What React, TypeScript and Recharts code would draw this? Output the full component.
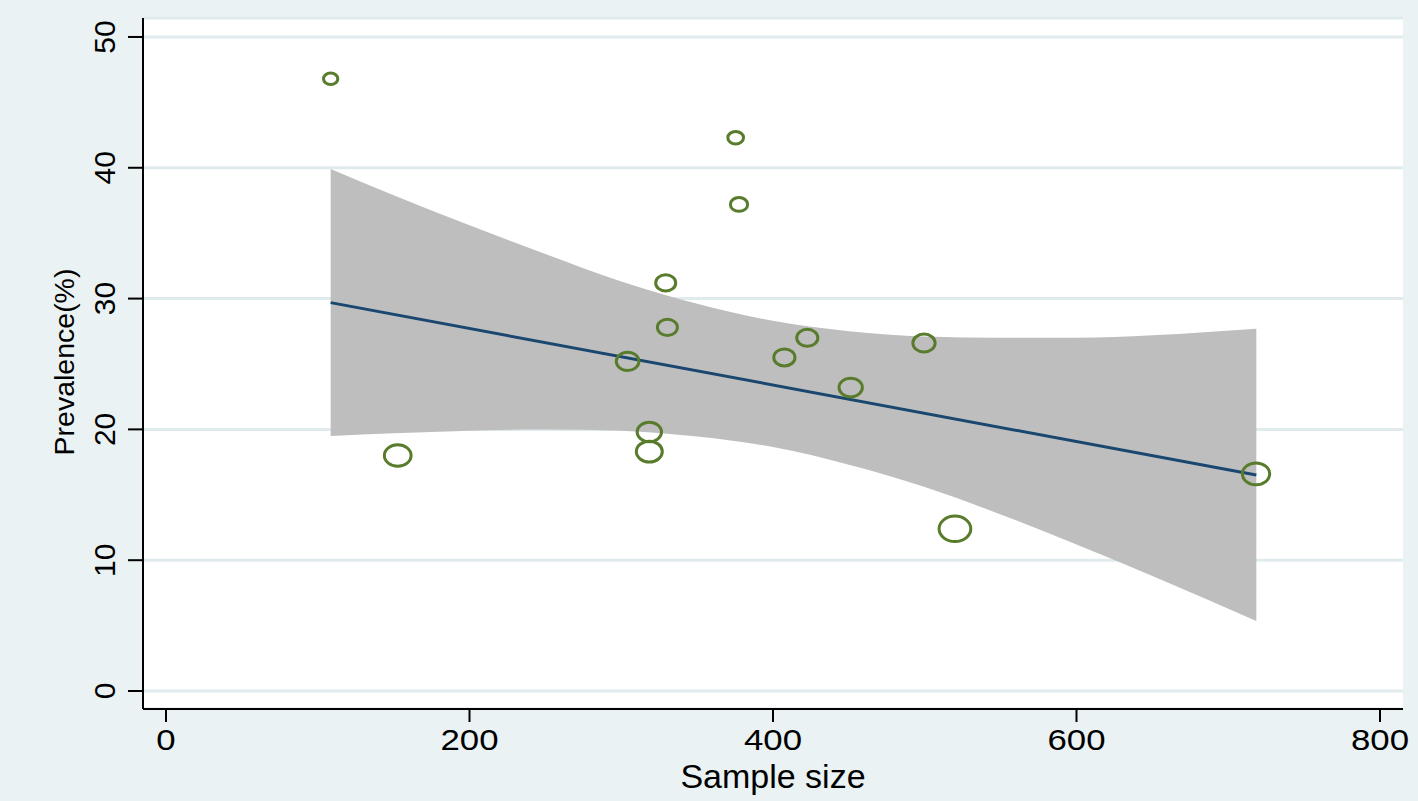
import React from 'react';
import { ComposedChart, Area, Line, Scatter, XAxis, YAxis, CartesianGrid } from 'recharts';

// studies: sample size, prevalence (%), relative weight
const sampleSize = [108.5, 375.4, 377.6, 329.3, 330.4, 304.2, 407.5, 422.6, 499.5, 451.2, 318.5, 318.5, 152.7, 519.9, 718.3];
const prevalence = [46.8, 42.3, 37.2, 31.2, 27.8, 25.2, 25.5, 27.0, 26.6, 23.2, 19.8, 18.3, 18.0, 12.4, 16.6];
const weight = [164, 196, 237, 320, 320, 412, 357, 357, 396, 433, 475, 538, 571, 801, 595];

// fitted line
const fitX = [108.5, 718.5];
const fitY = [29.69, 16.51];

// 95% CI band
const bandX = [108.5, 150, 200, 250, 300, 350, 400, 450, 500, 550, 600, 650, 718.5];
const bandLow = [19.5, 19.7, 19.9, 20.0, 19.9, 19.45, 18.65, 17.3, 15.6, 13.5, 11.2, 8.8, 5.35];
const bandHigh = [39.9, 37.9, 35.6, 33.4, 31.3, 29.6, 28.3, 27.5, 27.1, 27.0, 27.0, 27.2, 27.7];

const xTicks = [0, 200, 400, 600, 800];
const yTicks = [0, 10, 20, 30, 40, 50];

const FONT = '"Liberation Sans", Arial, Helvetica, sans-serif';

const points = sampleSize.map((x, i) => ({ x, y: prevalence[i], weight: weight[i] }));
const fit = fitX.map((x, i) => ({ x, fit: fitY[i] }));
const band = bandX.map((x, i) => ({ x, range: [bandLow[i], bandHigh[i]] }));

const YTick = (props: any) => {
    const { x, y, payload } = props;
    return (
        <text x={x} y={y} transform={`rotate(-90 ${x} ${y})`} textAnchor="middle" fontSize={30} fontFamily={FONT} fill="#000">
            {payload.value}
        </text>
    );
};

const XTick = (props: any) => {
    const { x, y, payload } = props;
    return (
        <g transform={`translate(${x} ${y + 28}) scale(1.2 1)`}>
            <text x={0} y={0} textAnchor="middle" fontSize={29} fontFamily={FONT} fill="#000">
                {payload.value}
            </text>
        </g>
    );
};

const Ring = (props: any) => {
    const { cx, cy, payload } = props;
    const d = Math.sqrt(payload.weight);
    return <ellipse cx={cx} cy={cy} rx={d * 0.56} ry={d * 0.45} fill="none" stroke="#587C2C" strokeWidth={3} />;
};

export default function App() {
    return (
        <div style={{ position: 'absolute', left: 0, top: 0, width: 1418, height: 801, background: '#EAF2F3' }}>
            <ComposedChart width={1418} height={801} margin={{ top: 18, right: 15, bottom: 0, left: 0 }}>
                <CartesianGrid vertical={false} fill="#fff" fillOpacity={1} stroke="#E0EBEE" strokeWidth={3} />
                <XAxis
                    type="number"
                    dataKey="x"
                    domain={[-15.16, 815.16]}
                    ticks={xTicks}
                    allowDataOverflow
                    height={92}
                    tickSize={13}
                    tickMargin={0}
                    tick={<XTick />}
                    axisLine={{ stroke: '#000', strokeWidth: 2 }}
                    tickLine={{ stroke: '#000', strokeWidth: 2 }}
                />
                <YAxis
                    type="number"
                    domain={[-1.376, 51.45]}
                    ticks={yTicks}
                    allowDataOverflow
                    width={143}
                    tickSize={15}
                    tickMargin={13}
                    tick={<YTick />}
                    axisLine={{ stroke: '#000', strokeWidth: 2 }}
                    tickLine={{ stroke: '#000', strokeWidth: 2 }}
                />
                <Area
                    data={band}
                    dataKey="range"
                    type="monotone"
                    stroke="none"
                    fill="#BEBEBE"
                    fillOpacity={1}
                    isAnimationActive={false}
                    dot={false}
                    activeDot={false}
                />
                <Line
                    data={fit}
                    dataKey="fit"
                    type="linear"
                    stroke="#1A476F"
                    strokeWidth={3}
                    dot={false}
                    activeDot={false}
                    isAnimationActive={false}
                />
                <Scatter data={points} dataKey="y" shape={<Ring />} isAnimationActive={false} />
            </ComposedChart>
            <svg width={1418} height={801} style={{ position: 'absolute', left: 0, top: 0, pointerEvents: 'none' }}>
                <text x={773} y={788} textAnchor="middle" fontSize={34} fontFamily={FONT} fill="#000">
                    Sample size
                </text>
                <text x={74} y={362} transform="rotate(-90 74 362)" textAnchor="middle" fontSize={28.5} fontFamily={FONT} fill="#000">
                    Prevalence(%)
                </text>
            </svg>
        </div>
    );
}
